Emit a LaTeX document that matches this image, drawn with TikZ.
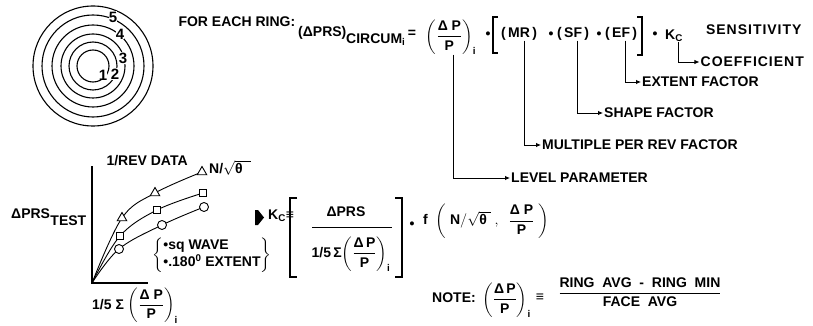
\documentclass[tikz,border=0pt]{standalone}
\usepackage{amsmath}
\usepackage{fontspec}
\setmainfont{Liberation Sans}
\usetikzlibrary{arrows.meta,positioning,shapes.geometric}
\newcommand{\dpfrac}{\left(\dfrac{\text{Δ\,P}}{\text{P}}\right)}

\begin{document}
\begin{tikzpicture}[x=1pt,y=-1pt,font=\fontsize{14}{16}\selectfont\bfseries,
    >={Latex[length=5pt,width=4.5pt]},
    lead/.style={->,line width=0.9pt},
    ring/.style={draw,circle,line width=1.1pt,inner sep=0pt},
    tag/.style={anchor=west,inner sep=1pt},
    wide/.style={font=\fontsize{14}{16}\selectfont\bfseries\addfontfeature{LetterSpace=7}},
    mk/.style={draw,fill=white,line width=0.9pt,inner sep=0pt},
    tri/.style={regular polygon,regular polygon sides=3,minimum size=11pt},
    sqr/.style={rectangle,minimum size=7.5pt},
    cir/.style={circle,minimum size=9pt},
    curve/.style={line width=0.9pt},
    brk/.style={line width=1.1pt}]
\useasboundingbox (0,0) rectangle (813,326);

% rings
\node[ring,minimum size=120pt] (rout) at (93,66) {};
\foreach \n/\r in {1/16,2/24,3/32,4/41,5/51}
  \node[ring,minimum size={2*\r*1pt}] (ring\n) at (93,66) {};
\foreach \n/\x/\y in {1/103/75,2/115/74,3/123/58,4/120/34,5/113/17}
  \node[fill=white,inner sep=0.3pt,font=\fontsize{15}{16}\selectfont\bfseries] (num\n) at (\x,\y) {\n};

% per ring formula
\node[anchor=west] (each) at (175,22) {FOR EACH RING:};
\node[anchor=west,inner sep=0pt] (prs) at (298,33) {(ΔPRS)};
\node[anchor=west,inner sep=0pt] (circ) at (346,40) {CIRCUM$_{\text{i}}$};
\node (eqa) at (412,34) {=};
\node[inner sep=0pt] (dpa) at (451,37) {$\left(\dfrac{\text{Δ\;P}}{\text{P}}\right)_{\text{i}}$};
\node (dota) at (488,35) {•};
\draw[brk] (498,17) -- (493,17) -- (493,53) -- (498,53);
\node[anchor=west,inner sep=0pt] (mr) at (501,34) {(\,MR\,)};
\node (dotb) at (551,35) {•};
\node[anchor=west,inner sep=0pt] (sf) at (557,34) {(\,SF\,)};
\node (dotc) at (599,35) {•};
\node[anchor=west,inner sep=0pt] (ef) at (605,34) {(\,EF\,)};
\draw[brk] (637,17) -- (642,17) -- (642,55) -- (637,55);
\node (dotd) at (655,35) {•};
\node[anchor=west,inner sep=0pt] (kc) at (665,36) {K$_{\text{C}}$};

\node[anchor=east,wide] (sens) at (805,30) {SENSITIVITY};
\node[anchor=east,inner sep=1pt,wide] (coef) at (805,62) {COEFFICIENT};
\node[tag] (extent) at (641,82) {EXTENT FACTOR};
\node[tag] (shape) at (603,113) {SHAPE FACTOR};
\node[tag] (mult) at (541,145) {MULTIPLE PER REV FACTOR};
\node[tag] (level) at (510,178) {LEVEL PARAMETER};

\draw[lead] ([xshift=4pt]kc.south) |- (coef.west);
\draw[lead] ([xshift=4pt]ef.south) |- (extent.west);
\draw[lead] ([xshift=4pt]sf.south) |- (shape.west);
\draw[lead] ([xshift=5pt]mr.south) |- (mult.west);
\draw[lead] ([xshift=2pt]dpa.south) |- (level.west);

% test data plot
\coordinate (o) at (92,283);
\draw[line width=1.1pt] (92,166) -- (o) -- (148,283);
\coordinate (t1) at (122,218); \coordinate (t2) at (155,193); \coordinate (t3) at (202,172);
\coordinate (s1) at (120,236); \coordinate (s2) at (157,210); \coordinate (s3) at (203,193);
\coordinate (c1) at (119,249); \coordinate (c2) at (162,225); \coordinate (c3) at (204,207);
\foreach \m in {t,s,c}
  \draw[curve] plot[smooth,tension=0.6] coordinates {(o) (\m1) (\m2) (\m3)};
\foreach \n in {1,2,3} {
  \node[mk,tri] (tm\n) at (t\n) {};
  \node[mk,sqr] (sm\n) at (s\n) {};
  \node[mk,cir] (cm\n) at (c\n) {};
}
\node[anchor=west] (rev) at (103,161) {1/REV DATA};
\node[anchor=west,inner sep=1pt] (speed) at (208,168) {N/$\sqrt{\text{θ}\ \ }$};
\node[anchor=west,inner sep=0pt] (prst) at (11,214) {ΔPRS};
\node[right=0pt of prst,yshift=-7pt,inner sep=0pt] (tst) {TEST};
\node (wave) at (212,255) {$\left\{\begin{array}{@{}l@{}}\text{•sq WAVE}\\\text{•.180$^{\text{0}}$ EXTENT}\end{array}\right\}$};
\node[anchor=north west,inner sep=0pt] (xlab) at (92,288) {1/5\ Σ\ $\left(\dfrac{\text{Δ\;P}}{\text{P}}\right)_{\text{i}}$};

% sensitivity coefficient
\fill (255,210) -- (258,210) -- (264,217.5) -- (258,225) -- (255,225) -- cycle;
\node[anchor=west,inner sep=0pt] (kc2) at (268,216) {K$_{\text{C}}$≡};
\draw[brk] (297,198) -- (290,198) -- (290,277) -- (297,277);
\draw[brk] (395,198) -- (402,198) -- (402,277) -- (395,277);
\node (kprs) at (346,212) {ΔPRS};
\draw[line width=0.9pt] (312,227) -- (392,227);
\node (kden) at (351,254) {1/5\,Σ$\dpfrac_{\text{i}}$};
\node (dote) at (412,225) {•};
\node[anchor=west,inner sep=0pt] (ffun) at (423,221) {f\ \ $\left(\ \text{N}/\sqrt{\text{θ}\ }\ ,\ \ \dfrac{\text{Δ\;P}}{\text{P}}\ \right)$};

% note
\node[anchor=west,inner sep=0pt] (note) at (432,298) {NOTE:};
\node[anchor=west,inner sep=0pt] (ndp) at (482,300) {$\dpfrac_{\text{i}}$};
\node (neq) at (540,298) {≡};
\node (nfrac) at (640,292) {$\dfrac{\text{RING\ \ AVG\ \ -\ \ RING\ \ MIN}}{\text{FACE\ \ AVG}}$};
\end{tikzpicture}
\end{document}
